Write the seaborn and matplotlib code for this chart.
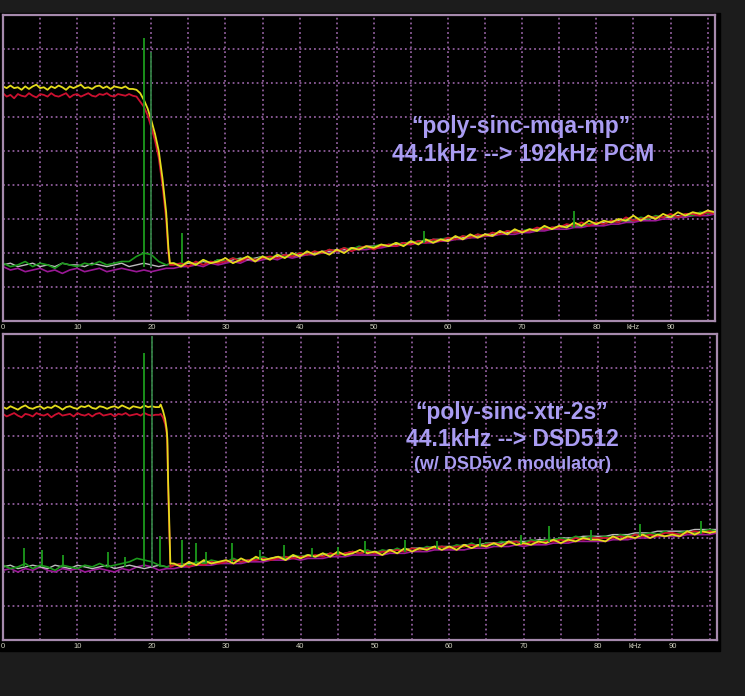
import numpy as np
import matplotlib
matplotlib.use('Agg')
import matplotlib.pyplot as plt
from matplotlib.patches import Rectangle
import seaborn as sns

# ------------------------------------------------------- #
#                          DATA                           #
# ------------------------------------------------------- #
# frequency grids (kHz)
f_pass_top = np.arange(0, 18, 0.5)
f_roll_top = [18.0, 18.5, 19.0, 19.5, 20.0, 20.5, 21.0, 21.5, 22.0, 22.3, 22.5]
f_pass_bot = np.arange(0, 21, 0.5)
f_roll_bot = [21.0, 21.2, 21.5, 21.8, 22.0, 22.1, 22.2, 22.35, 22.5]
f_tail = np.arange(23, 97, 1)
f_floor = np.arange(0, 97, 1)

# ---- top panel: poly-sinc-mqa-mp (dB) ----
yellow_pass_top = [-42, -43, -41.5, -43, -42.5, -44, -42, -43.5, -42, -41,
                   -43, -42.5, -44, -42, -43, -41.5, -42.5, -44, -42, -43,
                   -42, -41, -43, -42.5, -43.5, -42, -41.5, -43, -42, -43.5,
                   -42, -42.5, -43, -42, -43.5, -43.5]
red_pass_top = [-46, -48, -47, -49, -46.5, -47.5, -48, -46, -47.5, -48.5,
                -46.5, -47, -48, -46, -47.5, -48, -47, -46, -48.5, -47,
                -46.5, -48, -47, -46, -47.5, -48, -46.5, -47, -46, -47.5,
                -48, -46.5, -47, -47.5, -46.5, -47.5]
yellow_roll_top = [-44, -46, -50, -55, -62, -70, -80, -96, -116, -137, -146]
red_roll_top = [-48, -51, -54, -59, -66, -74, -84, -100, -120, -140, -147]
yellow_tail_top = [-146, -148, -145, -147, -144, -146, -145,
                   -143, -146, -144, -142, -145, -142, -144, -141, -143, -140,
                   -142, -139, -141, -139, -141, -138, -140, -137, -138, -136,
                   -137, -135, -136, -134, -136, -133, -135, -132, -134, -132,
                   -133, -130, -132, -129, -131, -129, -130, -127, -129, -126,
                   -128, -126, -127, -124, -126, -124, -125, -122, -124, -121,
                   -123, -121, -122, -120, -121, -118, -121, -118, -120, -117,
                   -119, -116, -118, -116, -117, -115, -116]
red_tail_top = [-147, -146, -148, -145, -147, -145, -146,
                -145, -143, -145, -143, -144, -143, -142, -143, -141, -142,
                -140, -141, -139, -140, -138, -139, -137, -139, -137, -136,
                -138, -136, -135, -136, -134, -135, -133, -134, -132, -133,
                -131, -132, -130, -131, -129, -130, -128, -129, -127, -128,
                -127, -127, -125, -126, -125, -125, -123, -124, -122, -124,
                -122, -123, -121, -122, -119, -121, -120, -119, -119, -119,
                -117, -119, -117, -117, -118, -116, -117]
purple_top = [-148, -150, -149, -151, -150, -149, -151, -150, -152, -150,
              -149, -151, -150, -149, -151, -150, -149, -150, -151, -150,
              -151, -150, -149, -149, -148, -148, -147, -148, -146, -147,
              -146, -145, -146, -144, -145, -144, -143, -144, -142, -143,
              -142, -141, -141, -140, -140, -139, -139, -138, -138, -138,
              -137, -137, -136, -136, -135, -135, -134, -134, -134, -133,
              -133, -132, -132, -131, -131, -130, -130, -129, -129, -129,
              -128, -128, -127, -127, -126, -126, -126, -125, -125, -124,
              -124, -124, -123, -123, -122, -122, -121, -121, -121, -120,
              -120, -119, -119, -118, -118, -118, -117]
green_top = [-146, -148, -147, -145, -148, -146, -147, -149, -146, -147,
             -148, -146, -147, -145, -147, -146, -145, -145, -142, -140,
             -141, -145, -147, -146, -147, -145, -147, -144, -146, -144,
             -145, -143, -144, -142, -144, -142, -143, -141, -142, -141,
             -140, -141, -139, -140, -138, -139, -137, -138, -136, -137,
             -136, -135, -136, -134, -135, -133, -134, -132, -133, -132,
             -131, -132, -130, -131, -129, -130, -128, -129, -127, -128,
             -127, -126, -127, -125, -126, -124, -125, -123, -124, -123,
             -122, -123, -121, -122, -120, -121, -119, -120, -118, -119,
             -118, -119, -117, -118, -116, -117, -116]
white_top = [-147, -146, -148, -147, -146, -148, -147, -148, -146, -147,
             -147, -148, -146, -147, -148, -147, -146, -148, -147, -146,
             -147, -148, -147, -146, -147, -146, -146, -145, -146, -144,
             -145, -144, -143, -144, -143, -142, -143, -142, -141, -142,
             -141, -140, -140, -139, -139, -138, -138, -137, -137, -136,
             -136, -136, -135, -135, -134, -134, -133, -133, -132, -132,
             -132, -131, -131, -130, -130, -129, -129, -128, -128, -127,
             -127, -127, -126, -126, -125, -125, -124, -124, -124, -123,
             -123, -122, -122, -121, -121, -121, -120, -120, -119, -119,
             -119, -118, -118, -117, -117, -116, -116]
spur_top_f = [19.0, 20.0, 24.1, 56.8, 77.0]
spur_top_db = [-13.5, -22, -128, -127, -115]
spur_top_base = [-148, -148, -146, -134, -125]

# ---- bottom panel: poly-sinc-xtr-2s (dB) ----
yellow_pass_bot = [-43, -44, -42.5, -43.5, -44.5, -43, -42, -43.5, -44, -43,
                   -42.5, -44, -43, -43.5, -42, -43, -44.5, -43, -42.5, -43.5,
                   -44, -42.5, -43, -42, -43.5, -44, -42.5, -43, -44, -43,
                   -42.5, -43.5, -42, -43, -44, -42.5, -43, -43.5, -42, -43,
                   -42.5, -43]
red_pass_bot = [-47, -48.5, -47.5, -46.5, -48, -49, -47, -47.5, -48.5, -46.5,
                -47.5, -48, -47, -49, -47.5, -46.5, -48, -47.5, -47, -48.5,
                -46.5, -47.5, -48, -47, -48.5, -47, -46.5, -48, -47.5, -47,
                -48.5, -47, -47.5, -46.5, -48, -47.5, -47, -48, -46.5, -47.5,
                -48, -47.5]
yellow_roll_bot = [-43, -41.5, -45, -50, -56, -62, -86, -110, -135]
red_roll_bot = [-47.5, -47, -49, -53, -58, -66, -90, -114, -137]
yellow_tail_bot = [-135, -137, -134, -136, -133, -135, -134,
                   -133, -135, -132, -134, -131, -133, -132, -131, -133, -130,
                   -132, -130, -131, -129, -131, -128, -130, -129, -127, -129,
                   -128, -130, -127, -129, -126, -128, -126, -127, -125, -127,
                   -125, -127, -124, -126, -124, -125, -123, -125, -122, -124,
                   -123, -124, -122, -123, -121, -123, -121, -122, -120, -121,
                   -121, -122, -119, -121, -119, -120, -118, -120, -118, -119,
                   -118, -119, -116, -118, -116, -117, -116]
red_tail_bot = [-136, -135, -137, -135, -136, -134, -135,
                -134, -133, -134, -133, -133, -132, -133, -132, -131, -132,
                -131, -131, -130, -131, -129, -130, -129, -128, -129, -128,
                -129, -128, -128, -127, -128, -126, -127, -126, -126, -125,
                -126, -125, -125, -124, -125, -124, -123, -124, -123, -122,
                -124, -122, -123, -122, -122, -121, -122, -120, -121, -120,
                -120, -120, -120, -119, -120, -118, -119, -118, -119, -117,
                -117, -118, -117, -116, -117, -116, -117]
purple_bot = [-139, -138, -140, -138, -139, -137, -139, -140, -138, -139,
              -138, -140, -139, -138, -139, -140, -138, -139, -137, -136,
              -137, -139, -138, -138, -137, -137, -136, -136, -136, -135,
              -135, -135, -135, -134, -134, -134, -133, -133, -133, -132,
              -133, -132, -132, -132, -131, -131, -131, -130, -130, -130,
              -130, -130, -129, -129, -129, -128, -128, -128, -127, -127,
              -127, -127, -127, -126, -126, -126, -125, -125, -125, -124,
              -125, -124, -124, -124, -123, -123, -123, -122, -122, -122,
              -122, -122, -121, -121, -121, -120, -120, -120, -119, -119,
              -119, -119, -118, -118, -118, -118, -117]
green_bot = [-136, -138, -137, -135, -138, -136, -137, -139, -136, -137,
             -138, -136, -137, -135, -137, -136, -135, -134, -132, -133,
             -134, -136, -137, -136, -135, -136, -134, -135, -133, -134,
             -134, -132, -134, -133, -132, -131, -133, -131, -132, -130,
             -131, -130, -131, -129, -130, -129, -130, -128, -129, -127,
             -129, -127, -128, -126, -128, -126, -127, -125, -126, -125,
             -126, -124, -125, -123, -125, -123, -124, -122, -123, -122,
             -123, -121, -122, -121, -121, -120, -121, -119, -120, -119,
             -120, -119, -120, -118, -119, -118, -118, -117, -118, -116,
             -118, -117, -116, -117, -116, -115, -116]
white_bot = [-137, -136, -138, -137, -136, -137, -138, -136, -137, -138,
             -136, -137, -138, -137, -136, -138, -137, -136, -137, -138,
             -137, -136, -137, -136, -136, -135, -135, -134, -135, -134,
             -134, -133, -134, -133, -132, -133, -132, -131, -132, -131,
             -131, -130, -131, -130, -129, -130, -129, -128, -129, -128,
             -128, -128, -127, -127, -127, -126, -126, -126, -125, -125,
             -125, -125, -124, -124, -124, -123, -123, -123, -122, -122,
             -122, -122, -121, -121, -121, -120, -120, -120, -119, -119,
             -119, -119, -118, -118, -118, -117, -117, -117, -116, -116,
             -116, -116, -116, -115, -115, -115, -115]
spur_bot_f = [2.8, 5.2, 8.1, 14.1, 16.4, 19.0, 20.0, 21.1, 24.0, 26.0,
              27.3, 30.8, 34.6, 37.8, 41.6, 45.1, 48.7, 54.0, 58.4, 64.2,
              69.6, 73.4, 79.0, 85.7, 93.8]
spur_bot_db = [-126, -127, -130, -128, -131, -11, -1, -119, -121, -123,
               -128, -123, -127, -124, -126, -125, -122, -121, -122, -120,
               -118, -113, -115, -112, -110]
spur_bot_base = [-137, -137, -137, -137, -137, -137, -137, -137, -136, -135.5,
                 -135, -134, -133, -132, -131, -130, -129, -128, -126.5, -125,
                 -123.5, -122.5, -121, -119, -117.5]

# axis ticks
x_ticks = np.arange(0, 100, 5)
x_tick_labels = ['0', '', '10', '', '20', '', '30', '', '40', '', '50', '',
                 '60', '', '70', '', '80', 'kHz', '90', '']
y_ticks = np.arange(-180, 1, 20)

labels_top = ['\u201cpoly-sinc-mqa-mp\u201d', '44.1kHz --> 192kHz PCM']
labels_bot = ['\u201cpoly-sinc-xtr-2s\u201d', '44.1kHz --> DSD512', '(w/ DSD5v2 modulator)']

# ------------------------------------------------------- #
#                          STYLE                          #
# ------------------------------------------------------- #
sns.set_style('dark', {'axes.facecolor': 'black'})
plt.rcParams['font.family'] = ['Liberation Sans', 'DejaVu Sans']

YELLOW = '#e4dc1c'
RED = '#cc1030'
GREEN = '#1c9a1c'
PURPLE = '#9a1896'
WHITE = '#bdbdbd'
GRID = '#8e5c9a'
SPINE = '#a68aad'
TXT = '#a99cf2'


def draw_panel(ax, f_sig, yellow, red, purple, green, white, sp_f, sp_db, sp_base, sp_colors):
    sns.lineplot(x=f_floor, y=purple, ax=ax, color=PURPLE, lw=1.2, estimator=None)
    sns.lineplot(x=f_floor, y=white, ax=ax, color=WHITE, lw=1.0, estimator=None)
    sns.lineplot(x=f_floor, y=green, ax=ax, color=GREEN, lw=1.2, estimator=None)
    ax.vlines(sp_f, sp_base, sp_db, colors=sp_colors, lw=1.3, zorder=3)
    sns.lineplot(x=f_sig, y=red, ax=ax, color=RED, lw=1.3, estimator=None)
    sns.lineplot(x=f_sig, y=yellow, ax=ax, color=YELLOW, lw=1.3, estimator=None)

    ax.set_xlim(0, 96)
    ax.set_ylim(-180, 0)
    ax.set_xticks(x_ticks)
    ax.set_xticklabels(x_tick_labels)
    ax.set_yticks(y_ticks)
    ax.set_yticklabels([])
    ax.tick_params(axis='both', length=0, pad=2, labelsize=5.5, labelcolor='#cfcfbe')
    ax.grid(True, color=GRID, linestyle=':', lw=1.3)
    ax.set_axisbelow(True)
    ax.set_xlabel('')
    ax.set_ylabel('')
    for s in ax.spines.values():
        s.set_color(SPINE)
        s.set_linewidth(1.6)


fig = plt.figure(figsize=(7.45, 6.96), dpi=100, facecolor='#1c1c1c')
fig.add_artist(Rectangle((0, 1 - 651 / 696), 720 / 745, 638 / 696,
                         transform=fig.transFigure, color='black', zorder=0))

ax_top = fig.add_axes([3 / 745, 1 - 321 / 696, 712 / 745, 306 / 696])
ax_bot = fig.add_axes([3 / 745, 1 - 640 / 696, 714 / 745, 306 / 696])

f_sig_top = np.concatenate([f_pass_top, f_roll_top, f_tail])
f_sig_bot = np.concatenate([f_pass_bot, f_roll_bot, f_tail])

spike_colors_top = [GREEN, '#2f7a40', GREEN, GREEN, GREEN]
spike_colors_bot = [GREEN] * len(spur_bot_f)
spike_colors_bot[6] = '#2f7a40'

draw_panel(ax_top, f_sig_top,
           yellow_pass_top + yellow_roll_top + yellow_tail_top,
           red_pass_top + red_roll_top + red_tail_top,
           purple_top, green_top, white_top,
           spur_top_f, spur_top_db, spur_top_base, spike_colors_top)
draw_panel(ax_bot, f_sig_bot,
           yellow_pass_bot + yellow_roll_bot + yellow_tail_bot,
           red_pass_bot + red_roll_bot + red_tail_bot,
           purple_bot, green_bot, white_bot,
           spur_bot_f, spur_bot_db, spur_bot_base, spike_colors_bot)

# annotations
ax_top.text(0.7275, 0.634, labels_top[0], transform=ax_top.transAxes, ha='center', va='center',
            color=TXT, fontsize=16.5, fontweight='bold')
ax_top.text(0.730, 0.5425, labels_top[1], transform=ax_top.transAxes, ha='center', va='center',
            color=TXT, fontsize=16.5, fontweight='bold')
ax_bot.text(0.713, 0.742, labels_bot[0], transform=ax_bot.transAxes, ha='center', va='center',
            color=TXT, fontsize=16.5, fontweight='bold')
ax_bot.text(0.713, 0.6536, labels_bot[1], transform=ax_bot.transAxes, ha='center', va='center',
            color=TXT, fontsize=16.5, fontweight='bold')
ax_bot.text(0.713, 0.572, labels_bot[2], transform=ax_bot.transAxes, ha='center', va='center',
            color=TXT, fontsize=13, fontweight='bold')

plt.savefig('out.png', dpi=100, facecolor=fig.get_facecolor())
